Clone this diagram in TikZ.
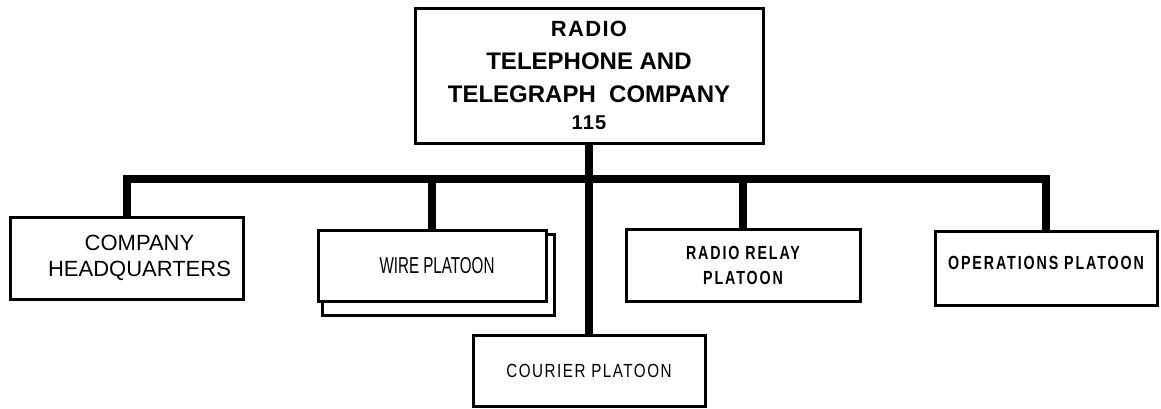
\documentclass[tikz,border=0pt]{standalone}
\usepackage{fontspec}
\setmainfont{Liberation Sans}
\newfontfamily\narrowfont[FakeStretch=0.66]{Liberation Sans}
\newfontfamily\spacedfont[FakeStretch=0.8,LetterSpace=8]{Liberation Sans}
\newfontfamily\stencilfont[FakeStretch=0.75,LetterSpace=10]{Liberation Sans}
\newfontfamily\wideboldfont[LetterSpace=6]{Liberation Sans}
\usetikzlibrary{positioning,calc}
\tikzset{
  unit/.style={draw, line width=3pt, align=center, inner sep=0pt},
  link/.style={line width=8pt, line join=miter},
  shade/.style={line width=2.5pt, line join=miter},
}

\begin{document}
\begin{tikzpicture}[x=1pt,y=-1pt]
  \useasboundingbox (0,0) rectangle (1161,408);
  % company box
  \node[unit, minimum width=348pt, minimum height=135pt,
        font=\bfseries\fontsize{24}{33}\selectfont] (top) at (589,75.5)
    {{\wideboldfont\fontsize{22}{33}\selectfont RADIO}\\
     TELEPHONE AND\\
     TELEGRAPH\ \ COMPANY\\[-6pt]
     {\wideboldfont\fontsize{20}{27}\selectfont 115}};
  % platoons
  \node[unit, minimum width=233pt, minimum height=82pt,
        font=\fontsize{22}{26}\selectfont] (hq) at (126.5,258)
    {\hspace*{26pt}COMPANY\\ \hspace*{26pt}HEADQUARTERS};
  \node[unit, minimum width=228pt, minimum height=71pt,
        font=\narrowfont\fontsize{23}{26}\selectfont] (wire) at (432,265.5)
    {\hspace*{10pt}WIRE PLATOON};
  \node[unit, minimum width=232pt, minimum height=71pt,
        font=\spacedfont\fontsize{19}{24}\selectfont] (courier) at (589,370.5)
    {COURIER PLATOON};
  \node[unit, minimum width=234pt, minimum height=72pt,
        font=\stencilfont\bfseries\fontsize{19}{25}\selectfont] (relay) at (743,265)
    {RADIO RELAY\\ PLATOON};
  \node[unit, minimum width=222pt, minimum height=74pt,
        font=\stencilfont\bfseries\fontsize{19}{25}\selectfont] (ops) at (1046,268)
    {\raisebox{10pt}{OPERATIONS PLATOON}};
  % second sheet behind wire platoon
  \draw[shade] ([yshift=-6pt]wire.north east) -- ++(7,0)
    |- ([shift={(6,13)}]wire.south west) -- ++(0,-13);
  % connectors
  \coordinate (jn) at (589,179);
  \draw[link] (top.south) -- (courier.north);
  \draw[link] (hq.north) |- (jn) -| (ops.north);
  \draw[link] (wire.north) -- (wire.north |- jn);
  \draw[link] (relay.north) -- (relay.north |- jn);
\end{tikzpicture}
\end{document}
